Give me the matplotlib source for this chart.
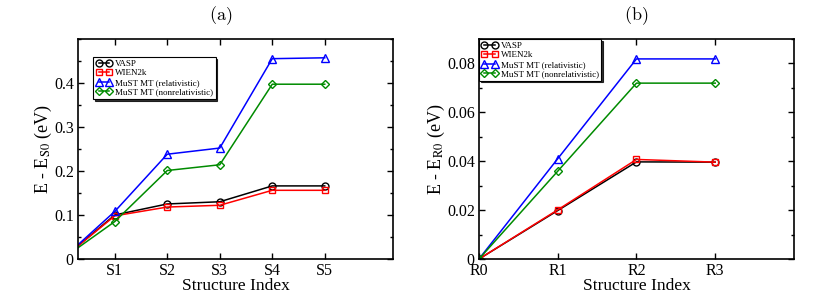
import matplotlib
matplotlib.use("Agg")
import matplotlib.pyplot as plt
from matplotlib.ticker import MultipleLocator

plt.rcParams["font.family"] = ["Liberation Serif", "DejaVu Serif"]
plt.rcParams["mathtext.fontset"] = "stix"

# Panel (a) data: S0 is the reference (0), clipped by the x range
s_x = [0, 1, 2, 3, 4, 5]
s_labels = ["S1", "S2", "S3", "S4", "S5"]
s_vasp = [0.0, 0.100, 0.125, 0.130, 0.166, 0.166]
s_wien = [0.0, 0.098, 0.118, 0.122, 0.156, 0.156]
s_must_rel = [0.0, 0.108, 0.238, 0.252, 0.455, 0.457]
s_must_nonrel = [0.0, 0.085, 0.201, 0.214, 0.397, 0.397]

# Panel (b) data
r_x = [0, 1, 2, 3]
r_labels = ["R0", "R1", "R2", "R3"]
r_vasp = [0.0, 0.0198, 0.0397, 0.0396]
r_wien = [0.0, 0.0201, 0.0407, 0.0396]
r_must_rel = [0.0, 0.0410, 0.0818, 0.0818]
r_must_nonrel = [0.0, 0.0359, 0.0719, 0.0719]

names = ["VASP", "WIEN2k", "MuST MT (relativistic)", "MuST MT (nonrelativistic)"]
colors = ["black", "red", "blue", "#008b00"]
markers = ["o", "s", "^", "D"]
msizes = [5, 5, 5.5, 4]

fig = plt.figure(figsize=(8.31, 3.07), dpi=100)
ax1 = fig.add_axes([0.0939, 0.1564, 0.379, 0.717])
ax2 = fig.add_axes([0.5764, 0.1564, 0.379, 0.717])


def draw(ax, x, series):
    for ys, name, c, m, ms in zip(series, names, colors, markers, msizes):
        ax.plot(x, ys, color=c, marker=m, markersize=ms, markerfacecolor="none",
                markeredgewidth=1.0, linewidth=1.1, label=name)
    for sp in ax.spines.values():
        sp.set_linewidth(1.2)
    ax.tick_params(which="both", direction="in", top=True, right=True, labelsize=11.5)
    ax.tick_params(which="major", length=4, width=1, pad=3)
    ax.tick_params(which="minor", length=2.5, width=1)
    ax.set_xlabel("Structure Index", fontsize=12.5, labelpad=-1)


def legend(ax, anchor):
    lg = ax.legend(loc="upper left", bbox_to_anchor=anchor, borderaxespad=0,
                   numpoints=2, fontsize=6.5, fancybox=False, edgecolor="black",
                   framealpha=1, handlelength=1.8, handletextpad=0.3,
                   labelspacing=0.12, borderpad=0.3,
                   shadow={"color": "black", "alpha": 0.8, "ox": 1.2, "oy": -1.2})
    lg.get_frame().set_linewidth(0.8)


draw(ax1, s_x, [s_vasp, s_wien, s_must_rel, s_must_nonrel])
ax1.set_xlim(0.3, 6.3)
ax1.set_ylim(0, 0.5)
ax1.set_xticks(s_x[1:])
ax1.set_xticklabels(s_labels)
ax1.set_yticks([0, 0.1, 0.2, 0.3, 0.4])
ax1.set_yticklabels(["0", "0.1", "0.2", "0.3", "0.4"])
ax1.yaxis.set_minor_locator(MultipleLocator(0.05))
ax1.set_ylabel(r"E - E$_{\rm S0}$ (eV)", fontsize=13, labelpad=0)
legend(ax1, (0.048, 0.918))

draw(ax2, r_x, [r_vasp, r_wien, r_must_rel, r_must_nonrel])
ax2.set_xlim(0, 4)
ax2.set_ylim(0, 0.09)
ax2.set_xticks(r_x)
ax2.set_xticklabels(r_labels)
ax2.set_yticks([0, 0.02, 0.04, 0.06, 0.08])
ax2.set_yticklabels(["0", "0.02", "0.04", "0.06", "0.08"])
ax2.yaxis.set_minor_locator(MultipleLocator(0.01))
ax2.set_ylabel(r"E - E$_{\rm R0}$ (eV)", fontsize=13, labelpad=0)
legend(ax2, (0, 1))

fig.text(0.265, 0.95, r"$\mathrm{(a)}$", fontsize=13, ha="center", va="center",
         math_fontfamily="cm")
fig.text(0.766, 0.95, r"$\mathrm{(b)}$", fontsize=13, ha="center", va="center",
         math_fontfamily="cm")

fig.savefig("out.png", dpi=100)
